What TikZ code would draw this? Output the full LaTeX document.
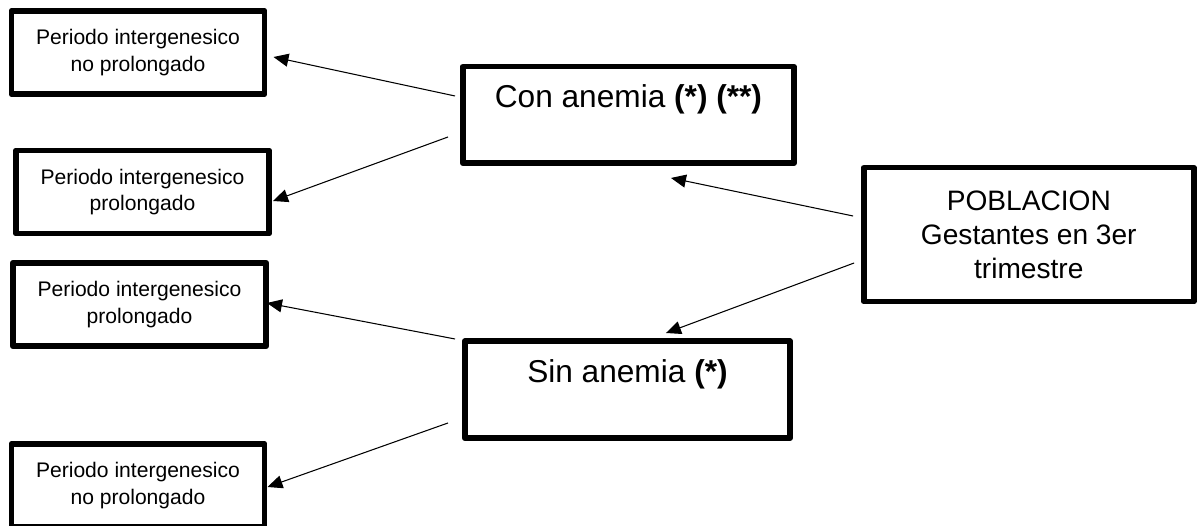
\documentclass[tikz,border=0pt]{standalone}
\usepackage{fontspec}
\setmainfont{Liberation Sans}
\usetikzlibrary{arrows.meta}

\begin{document}
\begin{tikzpicture}[x=0.02cm, y=-0.02cm,
		caja/.style={draw, line width=0.11cm, line join=round, inner sep=0, align=center},
		chica/.style={caja, minimum width=5.07cm, minimum height=1.67cm, font=\fontsize{12pt}{15.3pt}\selectfont},
		grande/.style={caja, anchor=north west, text depth=1.105cm, font=\fontsize{18pt}{21.6pt}\selectfont},
		flecha/.style={line width=0.6pt, -{Triangle[length=0.3cm, width=0.26cm]}}]
			%%%%% START %%%%%
			
			\useasboundingbox (0, 0) rectangle (1197, 526);
			
			\node[grande, minimum width=6.63cm, text height=0.825cm] (conanemia) at (460, 64) {Con anemia \textbf{(*)} \textbf{(**)}};
			\node[grande, minimum width=6.51cm, text height=0.835cm] (sinanemia) at (462, 338.5) {Sin anemia \textbf{(*)}};
			
			\node[caja, minimum width=6.6cm, minimum height=2.68cm, font=\fontsize{16pt}{19.35pt}\selectfont] (poblacion) at (1028.8, 234.7) {POBLACION\\Gestantes en 3er\\trimestre};
			
			\node[chica] (picon1) at (138, 52.5) {Periodo intergenesico\\no prolongado};
			\node[chica] (picon2) at (142.5, 192) {Periodo intergenesico\\prolongado};
			\node[chica] (pisin1) at (139.5, 304.5) {Periodo intergenesico\\prolongado};
			\node[chica] (pisin2) at (138, 485.5) {Periodo intergenesico\\no prolongado};
			
			\draw[flecha] ([shift={(-8,-18.7)}]poblacion.west) -- ([shift={(42.5,12)}]conanemia.south);
			\draw[flecha] ([shift={(-7,28.3)}]poblacion.west) -- ([shift={(38.5,-5.5)}]sinanemia.north);
			
			\draw[flecha] ([shift={(-5,-19)}]conanemia.west) -- ([shift={(6,4.5)}]picon1.east);
			\draw[flecha] ([shift={(-12,22)}]conanemia.west) -- ([shift={(1,9)}]picon2.east);
			
			\draw[flecha] ([shift={(-7,-50.75)}]sinanemia.west) -- ([shift={(-2,-1.5)}]pisin1.east);
			\draw[flecha] ([shift={(-14,33.25)}]sinanemia.west) -- ([shift={(0,1.5)}]pisin2.east);
			
			%%%%% END %%%%%
\end{tikzpicture}
\end{document}
